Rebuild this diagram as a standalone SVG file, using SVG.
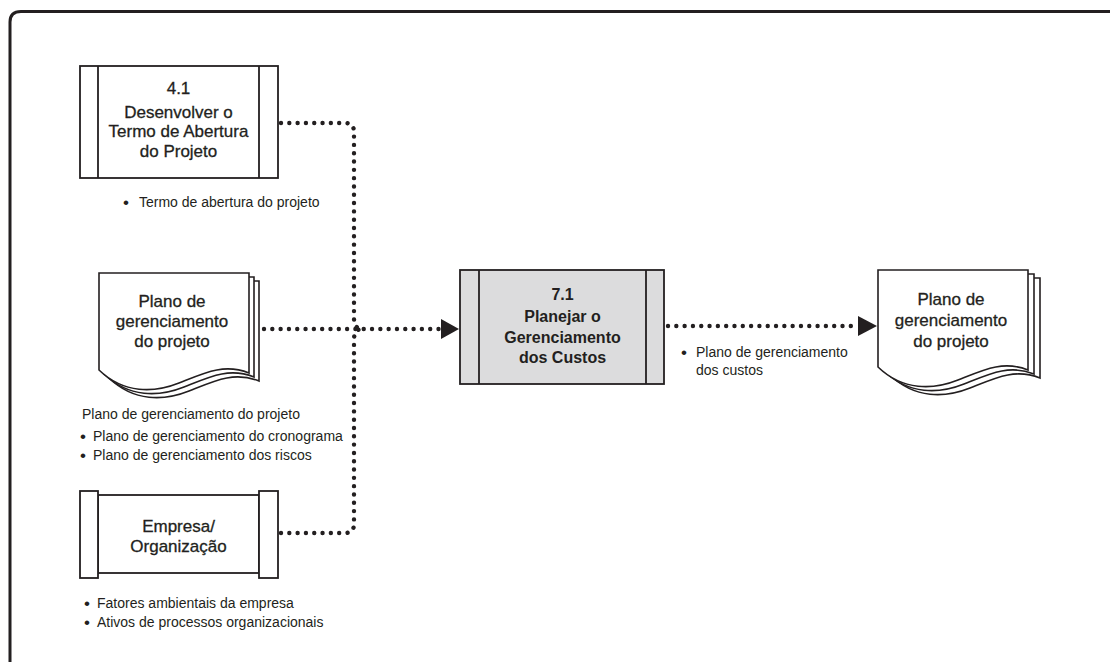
<svg xmlns="http://www.w3.org/2000/svg" width="1110" height="662" viewBox="0 0 1110 662">
<defs>
<style>
.frame{fill:none;stroke:#231f20;stroke-width:3}
.box{fill:#ffffff;stroke:#231f20;stroke-width:1.8}
.boxg{fill:#dcdcdd;stroke:#231f20;stroke-width:1.8}
.doc{fill:#ffffff;stroke:#231f20;stroke-width:1.6}
.nt{font-family:"Liberation Sans",Arial,sans-serif;font-size:17px;fill:#231f20;stroke:#231f20;stroke-width:0.3;text-anchor:middle}
.bt{font-family:"Liberation Sans",Arial,sans-serif;font-size:16px;font-weight:bold;fill:#231f20;text-anchor:middle}
.lt{font-family:"Liberation Sans",Arial,sans-serif;font-size:14px;fill:#231f20}
.bu{font-family:"Liberation Sans",Arial,sans-serif;font-size:17px;fill:#231f20}
.dot{fill:none;stroke:#231f20;stroke-width:4.4;stroke-linecap:round;stroke-dasharray:0.01 8.3}
.ah{fill:#231f20}
</style>
<path id="docshape" d="M0,0 H150 V100 C125,90 105,100 80,110 C55,120 25,121 0,97 Z"/>
</defs>
<rect width="1110" height="662" fill="#ffffff"/>
<path class="frame" d="M10,665 V22 Q10,11.5 21,11.5 H1112"/>

<g id="connectors">
<path class="dot" d="M281,123 H345 Q354,123 354,132 V318 Q354,329 362,329"/>
<path class="dot" d="M281,533 H345 Q354,533 354,524 V340 Q354,329 362,329"/>
<path class="dot" d="M264,329 H440"/>
<polygon class="ah" points="441,319 459,329 441,339"/>
<path class="dot" d="M668,326 H856"/>
<polygon class="ah" points="858,316 877,326 858,336"/>
</g>

<g id="node-4-1">
<rect class="box" x="80" y="66" width="198" height="112"/>
<line class="box" x1="98" y1="66" x2="98" y2="178"/>
<line class="box" x1="259" y1="66" x2="259" y2="178"/>
<text class="nt" x="178.5" y="94">4.1</text>
<text class="nt" x="178.5" y="118">Desenvolver o</text>
<text class="nt" x="178.5" y="137">Termo de Abertura</text>
<text class="nt" x="178.5" y="157">do Projeto</text>
<text class="bu" x="123" y="208">•</text>
<text class="lt" x="139" y="207">Termo de abertura do projeto</text>
</g>

<g id="node-plano-in">
<use href="#docshape" class="doc" x="109" y="281"/>
<use href="#docshape" class="doc" x="104" y="277"/>
<use href="#docshape" class="doc" x="99" y="273"/>
<text class="nt" x="172" y="307">Plano de</text>
<text class="nt" x="172" y="327">gerenciamento</text>
<text class="nt" x="172" y="347">do projeto</text>
<text class="lt" x="82" y="419">Plano de gerenciamento do projeto</text>
<text class="bu" x="80" y="442">•</text>
<text class="lt" x="93" y="441">Plano de gerenciamento do cronograma</text>
<text class="bu" x="80" y="461">•</text>
<text class="lt" x="93" y="460">Plano de gerenciamento dos riscos</text>
</g>

<g id="node-empresa">
<rect class="box" x="98" y="495" width="161" height="78"/>
<rect class="box" x="80" y="491" width="18" height="87"/>
<rect class="box" x="259" y="491" width="19" height="87"/>
<text class="nt" x="178.5" y="532">Empresa/</text>
<text class="nt" x="178.5" y="552">Organização</text>
<text class="bu" x="84" y="609">•</text>
<text class="lt" x="97" y="608">Fatores ambientais da empresa</text>
<text class="bu" x="84" y="628">•</text>
<text class="lt" x="97" y="627">Ativos de processos organizacionais</text>
</g>

<g id="node-7-1">
<rect class="boxg" x="460" y="270" width="204" height="114"/>
<line class="boxg" x1="479" y1="270" x2="479" y2="384"/>
<line class="boxg" x1="646" y1="270" x2="646" y2="384"/>
<text class="bt" x="562.5" y="300">7.1</text>
<text class="bt" x="562.5" y="322">Planejar o</text>
<text class="bt" x="562.5" y="343">Gerenciamento</text>
<text class="bt" x="562.5" y="363">dos Custos</text>
</g>

<g id="label-out">
<text class="bu" x="681" y="358">•</text>
<text class="lt" x="696" y="357">Plano de gerenciamento</text>
<text class="lt" x="696" y="375">dos custos</text>
</g>

<g id="node-plano-out">
<use href="#docshape" class="doc" x="890" y="278"/>
<use href="#docshape" class="doc" x="884" y="274"/>
<use href="#docshape" class="doc" x="878" y="270"/>
<text class="nt" x="951" y="305">Plano de</text>
<text class="nt" x="951" y="326">gerenciamento</text>
<text class="nt" x="951" y="347">do projeto</text>
</g>
</svg>
